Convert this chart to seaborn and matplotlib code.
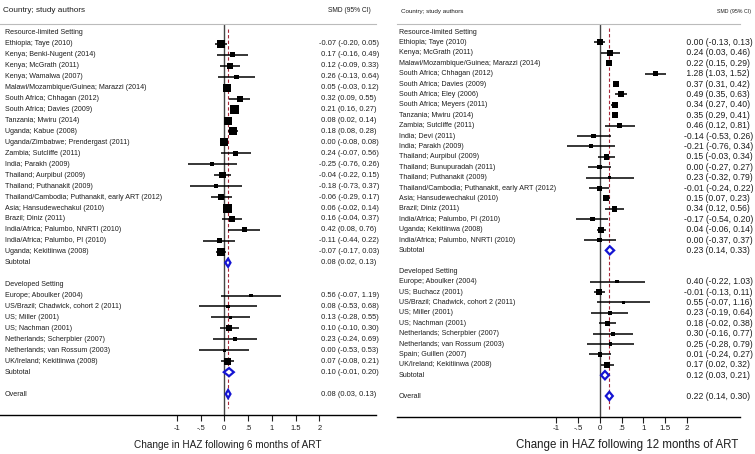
import numpy as np
import pandas as pd
import matplotlib
matplotlib.use("Agg")
import matplotlib.pyplot as plt
import seaborn as sns

# ---------------- data: 6 months (left panel) ----------------
rl6_labels = ["Ethiopia; Taye (2010)", "Kenya; Benki-Nugent (2014)", "Kenya; McGrath (2011)",
              "Kenya; Wamalwa (2007)", "Malawi/Mozambique/Guinea; Marazzi (2014)",
              "South Africa; Chhagan (2012)", "South Africa; Davies (2009)", "Tanzania; Mwiru (2014)",
              "Uganda; Kabue (2008)", "Uganda/Zimbabwe; Prendergast (2011)", "Zambia; Sutcliffe (2011)",
              "India; Parakh (2009)", "Thailand; Aurpibul (2009)", "Thailand; Puthanakit (2009)",
              "Thailand/Cambodia; Puthanakit, early ART (2012)", "Asia; Hansudewechakul (2010)",
              "Brazil; Diniz (2011)", "India/Africa; Palumbo, NNRTI (2010)",
              "India/Africa; Palumbo, PI (2010)", "Uganda; Kekitiinwa (2008)"]
rl6_est = [-0.07, 0.17, 0.12, 0.26, 0.05, 0.32, 0.21, 0.08, 0.18, 0.00, 0.24, -0.25, -0.04, -0.18,
           -0.06, 0.06, 0.16, 0.42, -0.11, -0.07]
rl6_lo = [-0.20, -0.16, -0.09, -0.13, -0.03, 0.09, 0.16, 0.02, 0.08, -0.08, -0.07, -0.76, -0.22, -0.73,
          -0.29, -0.02, -0.04, 0.08, -0.44, -0.17]
rl6_hi = [0.05, 0.49, 0.33, 0.64, 0.12, 0.55, 0.27, 0.14, 0.28, 0.08, 0.56, 0.26, 0.15, 0.37,
          0.17, 0.14, 0.37, 0.76, 0.22, 0.03]
rl6_w = [8, 5, 6, 4.5, 8, 6, 9, 8, 8, 8, 5, 4, 6.5, 3.5, 6, 9, 6.5, 5, 5, 8]
rl6_sub = (0.08, 0.02, 0.13)

dv6_labels = ["Europe; Aboulker (2004)", "US/Brazil; Chadwick, cohort 2 (2011)", "US; Miller (2001)",
              "US; Nachman (2001)", "Netherlands; Scherpbier (2007)", "Netherlands; van Rossum (2003)",
              "UK/Ireland; Kekitiinwa (2008)"]
dv6_est = [0.56, 0.08, 0.13, 0.10, 0.23, 0.00, 0.07]
dv6_lo = [-0.07, -0.53, -0.28, -0.10, -0.24, -0.53, -0.08]
dv6_hi = [1.19, 0.68, 0.55, 0.30, 0.69, 0.53, 0.21]
dv6_w = [3.5, 3.5, 3.5, 6, 4, 3.5, 7]
dv6_sub = (0.10, -0.01, 0.20)
overall6 = (0.08, 0.03, 0.13)

# ---------------- data: 12 months (right panel) ----------------
rl12_labels = ["Ethiopia; Taye (2010)", "Kenya; McGrath (2011)", "Malawi/Mozambique/Guinea; Marazzi (2014)",
               "South Africa; Chhagan (2012)", "South Africa; Davies (2009)", "South Africa; Eley (2006)",
               "South Africa; Meyers (2011)", "Tanzania; Mwiru (2014)", "Zambia; Sutcliffe (2011)",
               "India; Devi (2011)", "India; Parakh (2009)", "Thailand; Aurpibul (2009)",
               "Thailand; Bunupuradah (2011)", "Thailand; Puthanakit (2009)",
               "Thailand/Cambodia; Puthanakit, early ART (2012)", "Asia; Hansudewechakul (2010)",
               "Brazil; Diniz (2011)", "India/Africa; Palumbo, PI (2010)", "Uganda; Kekitiinwa (2008)",
               "India/Africa; Palumbo, NNRTI (2010)"]
rl12_est = [0.00, 0.24, 0.22, 1.28, 0.37, 0.49, 0.34, 0.35, 0.46, -0.14, -0.21, 0.15, 0.00, 0.23,
            -0.01, 0.15, 0.34, -0.17, 0.04, 0.00]
rl12_lo = [-0.13, 0.03, 0.15, 1.03, 0.31, 0.35, 0.27, 0.29, 0.12, -0.53, -0.76, -0.03, -0.27, -0.32,
           -0.24, 0.07, 0.12, -0.54, -0.06, -0.37]
rl12_hi = [0.13, 0.46, 0.29, 1.52, 0.42, 0.63, 0.40, 0.41, 0.81, 0.26, 0.34, 0.34, 0.27, 0.79,
           0.22, 0.23, 0.56, 0.20, 0.14, 0.37]
rl12_w = [6, 6, 6, 5, 6, 6, 6, 6, 5, 4.5, 4, 5.5, 4.5, 3.5, 5, 6, 5.5, 4.5, 6, 4.5]
rl12_sub = (0.23, 0.14, 0.33)

dv12_labels = ["Europe; Aboulker (2004)", "US; Buchacz (2001)", "US/Brazil; Chadwick, cohort 2 (2011)",
               "US; Miller (2001)", "US; Nachman (2001)", "Netherlands; Scherpbier (2007)",
               "Netherlands; van Rossum (2003)", "Spain; Guillen (2007)", "UK/Ireland; Kekitiinwa (2008)"]
dv12_est = [0.40, -0.01, 0.55, 0.23, 0.18, 0.30, 0.25, 0.01, 0.17]
dv12_lo = [-0.22, -0.13, -0.07, -0.19, -0.02, -0.16, -0.28, -0.24, 0.02]
dv12_hi = [1.03, 0.11, 1.16, 0.64, 0.38, 0.77, 0.79, 0.27, 0.32]
dv12_w = [3.5, 6, 3.5, 4, 5, 4, 3.5, 4.5, 5.5]
dv12_sub = (0.12, 0.03, 0.21)
overall12 = (0.22, 0.14, 0.30)

tick_vals = [-1, -0.5, 0, 0.5, 1, 1.5, 2]
tick_labels = ["-1", "-.5", "0", ".5", "1", "1.5", "2"]

sns.set_style("white")
plt.rcParams["font.family"] = ["Liberation Sans", "DejaVu Sans"]

W, H = 755, 454
fig = plt.figure(figsize=(W / 100, H / 100), dpi=100)

TXT = "#1e1e1e"
BLUE = "#1414d2"
RED = "#a8283a"


def fmt(e, l, h):
    return f"{e:5.2f} ({l:.2f}, {h:.2f})"


def build_panel(cfg, rl, dv, overall, xlabel):
    ax_l, ax_r = cfg["ax_l"], cfg["ax_r"]
    y_top, y_bot = cfg["y_top"], cfg["y_bot"]
    zero, scale = cfg["zero"], cfg["scale"]
    r0, step = cfg["row0"], cfg["step"]
    ax = fig.add_axes([ax_l / W, 1 - y_bot / H, (ax_r - ax_l) / W, (y_bot - y_top) / H])
    ax.set_xlim((ax_l - zero) / scale, (ax_r - zero) / scale)
    ax.set_ylim((y_bot - r0) / step, (y_top - r0) / step)
    tr = ax.get_yaxis_transform()
    fx = lambda px: (px - ax_l) / (ax_r - ax_l)

    rows = []
    r = 0
    rows.append(dict(kind="head", row=r, label="Resource-limited Setting")); r += 1
    labels, est, lo, hi, w, sub = rl
    for i in range(len(labels)):
        rows.append(dict(kind="study", row=r, label=labels[i], est=est[i], lo=lo[i], hi=hi[i], w=w[i])); r += 1
    rows.append(dict(kind="sub", row=r, label="Subtotal", est=sub[0], lo=sub[1], hi=sub[2])); r += 2
    rows.append(dict(kind="head", row=r, label="Developed Setting")); r += 1
    labels, est, lo, hi, w, sub = dv
    for i in range(len(labels)):
        rows.append(dict(kind="study", row=r, label=labels[i], est=est[i], lo=lo[i], hi=hi[i], w=w[i])); r += 1
    rows.append(dict(kind="sub", row=r, label="Subtotal", est=sub[0], lo=sub[1], hi=sub[2])); r += 2
    rows.append(dict(kind="sub", row=r, label="Overall", est=overall[0], lo=overall[1], hi=overall[2]))
    df = pd.DataFrame(rows)
    last_row = r

    ax.axvline(0, color="#444444", lw=1.0, zorder=1)
    ax.plot([overall[0], overall[0]], [-0.4, last_row + 1.3], color=RED, lw=0.8,
            ls=(0, (3, 2)), zorder=1)

    st = df[df.kind == "study"]
    ax.hlines(st["row"], st["lo"], st["hi"], color="black", lw=1.1, zorder=2)
    sizes = (st["w"].to_numpy() * 0.72) ** 2
    sns.scatterplot(x=st["est"].to_numpy(), y=st["row"].to_numpy(), s=sizes, marker="s",
                    color="black", edgecolor="none", linewidth=0, ax=ax, zorder=3, legend=False)

    hh = cfg["dh"]
    for _, rw in df[df.kind == "sub"].iterrows():
        ax.fill([rw.lo, rw.est, rw.hi, rw.est], [rw.row, rw.row - hh, rw.row, rw.row + hh],
                facecolor="white", edgecolor=BLUE, lw=1.6, zorder=4)

    for _, rw in df.iterrows():
        ax.text(fx(cfg["lab_x"]), rw.row, rw.label, transform=tr, ha="left", va="center",
                fontsize=cfg["fs_lab"], color=TXT, clip_on=False)
        if rw.kind != "head":
            ax.text(fx(cfg["ci_x"]), rw.row, fmt(rw.est, rw.lo, rw.hi), transform=tr, ha="left",
                    va="center", fontsize=cfg["fs_ci"], color=TXT, clip_on=False)
    hdr_row = (11 - r0) / step
    ax.text(fx(cfg["hdr_x"]), hdr_row, "Country; study authors", transform=tr, ha="left",
            va="center", fontsize=cfg["fs_hdr"], color=TXT, clip_on=False)
    ax.text(fx(cfg["smd_x"]), hdr_row, "SMD (95% CI)", transform=tr, ha="left",
            va="center", fontsize=cfg["fs_smd"], color=TXT, clip_on=False)

    for s in ["left", "right"]:
        ax.spines[s].set_visible(False)
    ax.spines["top"].set_color("#bbbbbb")
    ax.spines["top"].set_linewidth(0.8)
    ax.spines["bottom"].set_color("black")
    ax.spines["bottom"].set_linewidth(1.0)
    ax.set_yticks([])
    ax.set_xticks(tick_vals)
    ax.set_xticklabels(tick_labels)
    ax.tick_params(axis="x", bottom=True, direction="out", length=4, width=0.8,
                   labelsize=cfg["fs_tick"], pad=cfg["pad"], colors=TXT)
    ax.set_xlabel(xlabel, fontsize=cfg["xfs"], color=TXT, va="center")
    ax.xaxis.set_label_coords(fx(cfg["xl_x"]), (y_bot - 445) / (y_bot - y_top))
    ax.set_ylabel("")
    ax.patch.set_alpha(0)
    return ax


left_cfg = dict(ax_l=0, ax_r=376, y_top=24, y_bot=415, zero=224.3, scale=47.5, row0=33, step=10.94,
                lab_x=5, ci_x=319, hdr_x=3, smd_x=328, xl_x=227.5,
                fs_lab=5.1, fs_ci=5.4, fs_hdr=5.9, fs_smd=4.8, fs_tick=5.4, pad=3, xfs=7.2, dh=0.37)
right_cfg = dict(ax_l=397, ax_r=740, y_top=24, y_bot=417, zero=599.7, scale=43.67, row0=32, step=10.4,
                 lab_x=399, ci_x=684, hdr_x=401, smd_x=717, xl_x=627,
                 fs_lab=5.1, fs_ci=6.2, fs_hdr=4.5, fs_smd=3.8, fs_tick=5.8, pad=2, xfs=8.3, dh=0.4)

build_panel(left_cfg, (rl6_labels, rl6_est, rl6_lo, rl6_hi, rl6_w, rl6_sub),
            (dv6_labels, dv6_est, dv6_lo, dv6_hi, dv6_w, dv6_sub), overall6,
            "Change in HAZ following 6 months of ART")
build_panel(right_cfg, (rl12_labels, rl12_est, rl12_lo, rl12_hi, rl12_w, rl12_sub),
            (dv12_labels, dv12_est, dv12_lo, dv12_hi, dv12_w, dv12_sub), overall12,
            "Change in HAZ following 12 months of ART")

fig.savefig("out.png", dpi=100, facecolor="white")
